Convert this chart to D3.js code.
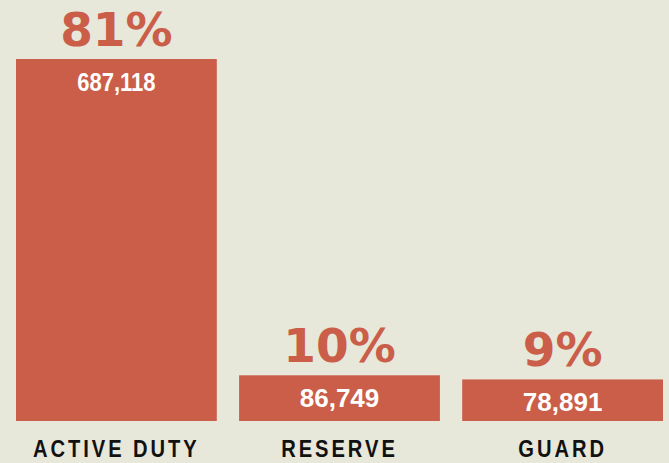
<!DOCTYPE html>
<html>
<head>
<meta charset="utf-8">
<script src="https://cdn.jsdelivr.net/npm/d3@7"></script>
<style>
  body { margin: 0; background: #e7e7da; }
  svg { display: block; }
</style>
</head>
<body>
<svg id="chart"></svg>
<script>
const categories = ["ACTIVE DUTY", "RESERVE", "GUARD"];
const members = [687118, 86749, 78891];
const shareLabels = ["81%", "10%", "9%"];

const width = 669;
const height = 463;
const margin = { top: 59, right: 6, bottom: 42, left: 16 };

const data = categories.map((c, i) => ({ cat: c, value: members[i], share: shareLabels[i] }));

const svg = d3.select("#chart")
    .attr("width", width)
    .attr("height", height);

svg.append("rect")
    .attr("width", width)
    .attr("height", height)
    .attr("fill", "#e7e7da");

const x = d3.scaleBand()
    .domain(categories)
    .range([margin.left, width - margin.right])
    .paddingInner(0.1);

const y = d3.scaleLinear()
    .domain([0, d3.max(members)])
    .range([height - margin.bottom, margin.top]);

const cx = d => x(d.cat) + x.bandwidth() / 2;

// bars
svg.selectAll(".bar")
    .data(data)
    .enter().append("rect")
    .attr("class", "bar")
    .attr("x", d => x(d.cat))
    .attr("y", d => y(d.value))
    .attr("width", x.bandwidth())
    .attr("height", d => y(0) - y(d.value))
    .attr("fill", "#ca5e49");

// big percent above bars
svg.selectAll(".share")
    .data(data)
    .enter().append("text")
    .attr("class", "share")
    .attr("x", cx)
    .attr("y", d => y(d.value) - 13)
    .attr("text-anchor", "middle")
    .style("font-family", "'DejaVu Sans', sans-serif")
    .style("font-weight", "bold")
    .style("font-size", "47px")
    .attr("fill", "#ca5e49")
    .text(d => d.share);

// counts inside bars (the long one is set condensed)
svg.selectAll(".count")
    .data(data)
    .enter().append("text")
    .attr("class", "count")
    .attr("transform", d => {
        const s = d.value >= 100000 ? 0.88 : 1.04;
        return `translate(${cx(d)},${y(d.value) + 32}) scale(${s},1)`;
    })
    .attr("text-anchor", "middle")
    .style("font-family", "'Liberation Sans', Arial, sans-serif")
    .style("font-weight", "bold")
    .style("font-size", "25px")
    .attr("fill", "#ffffff")
    .text(d => d3.format(",")(d.value));

// category names
svg.selectAll(".cat")
    .data(data)
    .enter().append("text")
    .attr("class", "cat")
    .attr("transform", d => `translate(${cx(d)},457) scale(0.84,1)`)
    .attr("text-anchor", "middle")
    .style("font-family", "'Liberation Sans', Arial, sans-serif")
    .style("font-weight", "bold")
    .style("font-size", "24px")
    .style("letter-spacing", "3.5px")
    .attr("fill", "#111")
    .text(d => d.cat);
</script>
</body>
</html>
